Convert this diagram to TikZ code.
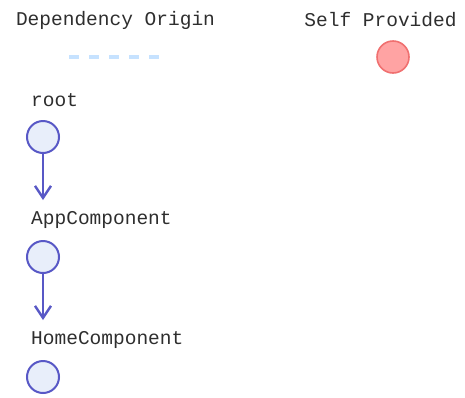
\documentclass[tikz,border=0pt]{standalone}
\usepackage{fontspec}
\setmonofont{Liberation Mono}
\usetikzlibrary{arrows.meta}
\definecolor{TxtClr}{HTML}{2E2E2E}
\definecolor{NodeLine}{HTML}{5858C6}
\definecolor{NodeFill}{HTML}{E8EEFA}
\definecolor{SelfLine}{HTML}{F07070}
\definecolor{SelfFill}{HTML}{FFA3A3}
\definecolor{OriginClr}{HTML}{C6E2FF}

\begin{document}
\begin{tikzpicture}[x=1pt,y=-1pt,
  txt/.style={text=TxtClr,font=\ttfamily\fontsize{19.5}{20}\selectfont,inner sep=0pt},
  dep/.style={circle,draw=NodeLine,fill=NodeFill,line width=2pt,minimum size=32pt,inner sep=0pt},
  self/.style={circle,draw=SelfLine,fill=SelfFill,line width=1.6pt,minimum size=32pt,inner sep=0pt},
  link/.style={draw=NodeLine,line width=2.4pt,-{Straight Barb[length=12pt,width=16pt]}}]
\useasboundingbox (0,0) rectangle (465,397);

% legend
\node[txt] (originlbl) at (115.5,20) {Dependency Origin};
\node[txt] (selflbl) at (380.5,20) {Self Provided};
\coordinate (originA) at (69,57);
\coordinate (originB) at (160,57);
\draw[OriginClr,line width=3.5pt,dash pattern=on 10pt off 10pt] (originA) -- (originB);
\node[self] (selfmark) at (393,57) {};

% injector tree
\node[txt,anchor=west] (rootlbl) at (31,100) {root};
\node[dep] (root) at (43,137) {};
\node[txt,anchor=west] (applbl) at (31,220) {AppComponent};
\node[dep] (app) at (43,257) {};
\node[txt,anchor=west] (homelbl) at (31,340) {HomeComponent};
\node[dep] (home) at (43,377) {};

\coordinate (rootend) at (43,200);
\coordinate (append) at (43,320);
\draw[link] (root) -- (rootend);
\draw[link] (app) -- (append);

\end{tikzpicture}
\end{document}
